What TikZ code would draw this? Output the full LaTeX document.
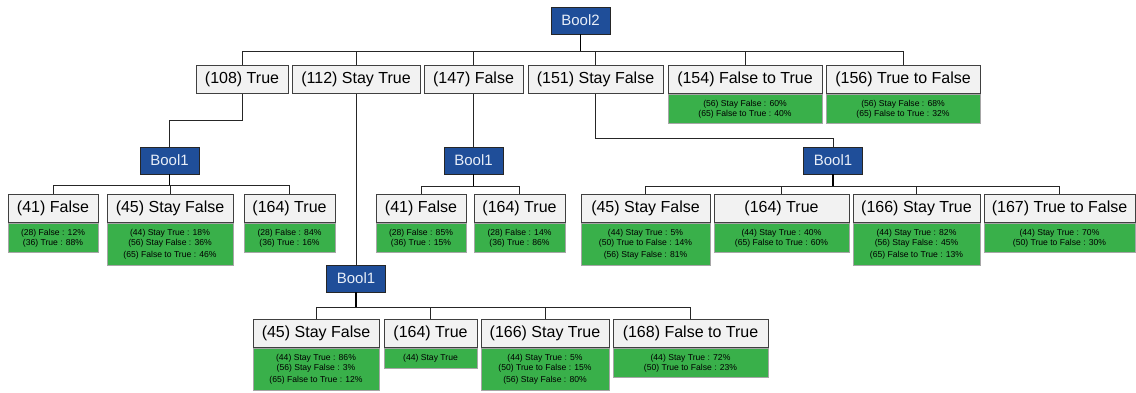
\documentclass[tikz,border=0pt]{standalone}
\usepackage{fontspec}
\setmainfont{Liberation Sans}
\usetikzlibrary{calc}
\definecolor{varblue}{HTML}{1F4E99}
\definecolor{vartext}{HTML}{E8EEF8}
\definecolor{headgrey}{HTML}{F2F2F2}
\definecolor{statgreen}{HTML}{39B04A}
\tikzset{
    var/.style={draw=black!85, fill=varblue, text=vartext, font=\fontsize{15}{16}\selectfont,
        minimum width=59pt, minimum height=27pt, inner sep=0pt, line width=0.8pt},
    head/.style={draw=black!75, fill=headgrey, font=\fontsize{16}{18}\selectfont,
        minimum height=28pt, inner sep=0pt, line width=0.8pt, anchor=south},
    stats/.style={draw=black!35, fill=statgreen, font=\fontsize{8.6}{10}\selectfont,
        align=center, inner sep=0pt, anchor=north, line width=0.6pt},
    link/.style={draw=black!85, line width=0.8pt},
    stem/.style={draw=black, line width=1.6pt},
}

\begin{document}
\begin{tikzpicture}[x=1pt, y=-1pt]
        \useasboundingbox (0,0) rectangle (1136,392);

        \draw (580.5,20.5) node[var](root){Bool2};

        \draw (242,94) node[head, minimum width=92pt](t108){(108) True};
        \draw (356,94) node[head, minimum width=128pt](t112){(112) Stay True};
        \draw (473.5,94) node[head, minimum width=99pt](t147){(147) False};
        \draw (595.5,94) node[head, minimum width=135pt](t151){(151) Stay False};
        \draw (745,94) node[stats, minimum width=154pt, minimum height=29pt](s154){(56) Stay False : 60\%\\(65) False to True : 40\%};
        \draw (745,94) node[head, minimum width=154pt](t154){(154) False to True};
        \draw (903,94) node[stats, minimum width=154pt, minimum height=29pt](s156){(56) Stay False : 68\%\\(65) False to True : 32\%};
        \draw (903,94) node[head, minimum width=154pt](t156){(156) True to False};

        \draw (169.5,160.5) node[var](ba){Bool1};
        \draw (473.5,160.5) node[var](bb){Bool1};
        \draw (833,160.5) node[var](bc){Bool1};
        \draw (356,278.5) node[var](bd){Bool1};

        \draw (53,223) node[stats, minimum width=90pt, minimum height=29pt](sa41){(28) False : 12\%\\(36) True : 88\%};
        \draw (53,223) node[head, minimum width=90pt](a41){(41) False};
        \draw (170,223) node[stats, minimum width=126pt, minimum height=42pt](sa45){(44) Stay True : 18\%\\(56) Stay False : 36\%\\[2pt](65) False to True : 46\%};
        \draw (170,223) node[head, minimum width=126pt](a45){(45) Stay False};
        \draw (289.5,223) node[stats, minimum width=91pt, minimum height=29pt](sa164){(28) False : 84\%\\(36) True : 16\%};
        \draw (289.5,223) node[head, minimum width=91pt](a164){(164) True};

        \draw (421,223) node[stats, minimum width=90pt, minimum height=29pt](sb41){(28) False : 85\%\\(36) True : 15\%};
        \draw (421,223) node[head, minimum width=90pt](b41){(41) False};
        \draw (519.5,223) node[stats, minimum width=91pt, minimum height=29pt](sb164){(28) False : 14\%\\(36) True : 86\%};
        \draw (519.5,223) node[head, minimum width=91pt](b164){(164) True};

        \draw (645.5,223) node[stats, minimum width=129pt, minimum height=42pt](sc45){(44) Stay True : 5\%\\(50) True to False : 14\%\\[2pt](56) Stay False : 81\%};
        \draw (645.5,223) node[head, minimum width=129pt](c45){(45) Stay False};
        \draw (781.5,223) node[stats, minimum width=135pt, minimum height=29pt](sc164){(44) Stay True : 40\%\\(65) False to True : 60\%};
        \draw (781.5,223) node[head, minimum width=135pt](c164){(164) True};
        \draw (916.5,223) node[stats, minimum width=127pt, minimum height=42pt](sc166){(44) Stay True : 82\%\\(56) Stay False : 45\%\\[2pt](65) False to True : 13\%};
        \draw (916.5,223) node[head, minimum width=127pt](c166){(166) Stay True};
        \draw (1059.5,223) node[stats, minimum width=151pt, minimum height=29pt](sc167){(44) Stay True : 70\%\\(50) True to False : 30\%};
        \draw (1059.5,223) node[head, minimum width=151pt](c167){(167) True to False};

        \draw (316,348) node[stats, minimum width=126pt, minimum height=42pt](sd45){(44) Stay True : 86\%\\(56) Stay False : 3\%\\[2pt](65) False to True : 12\%};
        \draw (316,348) node[head, minimum width=126pt](d45){(45) Stay False};
        \draw (430.5,348) node[stats, minimum width=93pt, minimum height=20pt](sd164){(44) Stay True};
        \draw (430.5,348) node[head, minimum width=93pt](d164){(164) True};
        \draw (545,348) node[stats, minimum width=128pt, minimum height=42pt](sd166){(44) Stay True : 5\%\\(50) True to False : 15\%\\[2pt](56) Stay False : 80\%};
        \draw (545,348) node[head, minimum width=128pt](d166){(166) Stay True};
        \draw (690.5,348) node[stats, minimum width=155pt, minimum height=29pt](sd168){(44) Stay True : 72\%\\(50) True to False : 23\%};
        \draw (690.5,348) node[head, minimum width=155pt](d168){(168) False to True};

        \draw[link] (root.south) ++(0,17) coordinate(rootbus) -| (t108.north);
        \draw[link] (rootbus) -| (t112.north);
        \draw[link] (rootbus) -| (t147.north);
        \draw[link] (rootbus) -| (t151.north);
        \draw[link] (rootbus) -| (t154.north);
        \draw[link] (rootbus) -| (t156.north);
        \draw[stem] (root.south) -- (rootbus);

        \draw[link] (t108.south) -- ++(0,26) -| (ba.north);
        \draw[link] (t112.south) -- (bd.north);
        \draw[link] (t147.south) -- (bb.north);
        \draw[link] (t151.south) -- ++(0,44) -| (bc.north);

        \draw[link] (ba.south) ++(0,11) coordinate(babus) -| (a41.north);
        \draw[link] (babus) -| (a45.north);
        \draw[link] (babus) -| (a164.north);
        \draw[stem] (ba.south) -- (babus);

        \draw[link] (bb.south) ++(0,12) coordinate(bbbus) -| (b41.north);
        \draw[link] (bbbus) -| (b164.north);
        \draw[stem] (bb.south) -- (bbbus);

        \draw[link] (bc.south) ++(0,12) coordinate(bcbus) -| (c45.north);
        \draw[link] (bcbus) -| (c164.north);
        \draw[link] (bcbus) -| (c166.north);
        \draw[link] (bcbus) -| (c167.north);
        \draw[stem] (bc.south) -- (bcbus);

        \draw[link] (bd.south) ++(0,15) coordinate(bdbus) -| (d45.north);
        \draw[link] (bdbus) -| (d164.north);
        \draw[link] (bdbus) -| (d166.north);
        \draw[link] (bdbus) -| (d168.north);
        \draw[stem] (bd.south) -- (bdbus);
    \end{tikzpicture}
\end{document}
